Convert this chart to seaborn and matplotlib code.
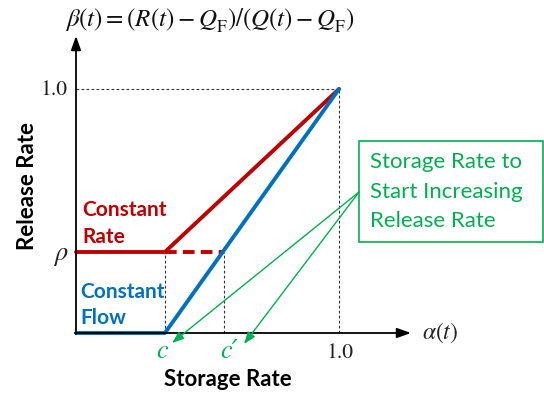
import matplotlib
matplotlib.use("Agg")
import matplotlib.pyplot as plt
import matplotlib.patches as mpatches
import seaborn as sns

# ---- data ----
c_val = 0.338          # storage rate c
c_prime = 0.562        # storage rate c'
rho = 0.332            # constant release rate
flow_x = [0.0, c_val, 1.0]
flow_y = [0.0, 0.0, 1.0]
rate_x = [0.0, c_val, 1.0]
rate_y = [rho, rho, 1.0]
dash_x = [c_val, c_prime]
dash_y = [rho, rho]

RED = "#C00000"
BLUE = "#0070C0"
GREEN = "#00B050"

sns.set_theme(style="white")
plt.rcParams["font.family"] = ["Lato", "DejaVu Sans"]
plt.rcParams["mathtext.fontset"] = "stix"

W, H = 544, 396
fig = plt.figure(figsize=(W / 100, H / 100), dpi=100)
ax = fig.add_axes([0, 0, 1, 1])
# pixel mapping: x=0 -> 76px, x=1 -> 339px ; y=0 -> 333px, y=1 -> 89px (from top)
x0p, x1p, y0p, y1p = 76, 339, 333, 89
sx = x1p - x0p
sy = y0p - y1p
ax.set_xlim(-x0p / sx, (W - x0p) / sx)
ax.set_ylim(-(H - y0p) / sy, y0p / sy)
ax.axis("off")

def fp(x, y):
    return (x / W, 1 - y / H)

# guide dotted lines
guide = dict(color="#333333", lw=0.8, ls=(0, (2.5, 2)))
ax.plot([0, 1], [1, 1], **guide)
ax.plot([1, 1], [0, 1], **guide)
ax.plot([c_val, c_val], [0, rho], **guide)
ax.plot([c_prime, c_prime], [0, rho], **guide)

# main lines
sns.lineplot(x=rate_x, y=rate_y, ax=ax, color=RED, lw=2.8, sort=False, legend=False)
sns.lineplot(x=dash_x, y=dash_y, ax=ax, color=RED, lw=2.8, sort=False, legend=False,
             linestyle=(0, (3, 1.6)))
sns.lineplot(x=flow_x, y=flow_y, ax=ax, color=BLUE, lw=2.8, sort=False, legend=False)

# axes arrows
ax.annotate("", xy=fp(411, 333), xytext=fp(75, 333), xycoords="figure fraction",
            textcoords="figure fraction",
            arrowprops=dict(arrowstyle="-|>,head_length=0.7,head_width=0.25", color="black", lw=1.3,
                            shrinkA=0, shrinkB=0))
ax.annotate("", xy=fp(76, 36), xytext=fp(76, 334), xycoords="figure fraction",
            textcoords="figure fraction",
            arrowprops=dict(arrowstyle="-|>,head_length=0.7,head_width=0.25", color="black", lw=1.3,
                            shrinkA=0, shrinkB=0))

# formula title
fig.text(*fp(210, 21),
         r"$\beta(t) = \left(R(t) - Q_{\mathrm{F}}^{\,}\right) / \left(Q(t) - Q_{\mathrm{F}}^{\,}\right)$",
         ha="center", va="center", fontsize=18, color="#111111")

serif = dict(family=["STIXGeneral", "DejaVu Serif"], color="#222222")
fig.text(*fp(54, 90), "1.0", ha="center", va="center", fontsize=15.5, **serif)
fig.text(*fp(340, 353), "1.0", ha="center", va="center", fontsize=15.5, **serif)
fig.text(*fp(61, 255), r"$\rho$", ha="center", va="center", fontsize=19, color="#222222")
fig.text(*fp(440, 333), r"$\alpha(t)$", ha="center", va="center", fontsize=17, color="#222222")
fig.text(*fp(162, 352), "c", ha="center", va="center", fontsize=19, color=GREEN,
         family=["STIXGeneral", "DejaVu Serif"], style="italic")
fig.text(*fp(229, 352), "c\u2032", ha="center", va="center", fontsize=19, color=GREEN,
         family=["STIXGeneral", "DejaVu Serif"], style="italic")

# axis titles
fig.text(*fp(228, 379), "Storage Rate", ha="center", va="center", fontsize=16,
         fontweight="bold", color="black")
fig.text(*fp(27, 186), "Release Rate", ha="center", va="center", fontsize=16,
         fontweight="bold", color="black", rotation=90)

# series labels
fs_lab = 15
fig.text(*fp(82, 210), "Constant", ha="left", va="center", fontsize=fs_lab, fontweight="bold", color=RED)
fig.text(*fp(82, 237), "Rate", ha="left", va="center", fontsize=fs_lab, fontweight="bold", color=RED)
fig.text(*fp(80, 292), "Constant", ha="left", va="center", fontsize=fs_lab, fontweight="bold", color=BLUE)
fig.text(*fp(80, 318), "Flow", ha="left", va="center", fontsize=fs_lab, fontweight="bold", color=BLUE)

# annotation box
rect = mpatches.Rectangle(fp(359, 242), (543 - 359) / W, (242 - 141) / H,
                          transform=fig.transFigure, fill=False, edgecolor=GREEN, lw=1.2)
fig.patches.append(rect)
for txt, yy in [("Storage Rate to", 162), ("Start Increasing", 192), ("Release Rate", 221)]:
    fig.text(*fp(370, yy), txt, ha="left", va="center", fontsize=16, color=GREEN)

# green arrows
for tip in [(172, 343), (244, 344)]:
    ax.annotate("", xy=fp(*tip), xytext=fp(359, 192), xycoords="figure fraction",
                textcoords="figure fraction",
                arrowprops=dict(arrowstyle="-|>,head_length=0.6,head_width=0.22", color=GREEN,
                                lw=1.0, shrinkA=0, shrinkB=0))

fig.savefig("out.png", dpi=100)
